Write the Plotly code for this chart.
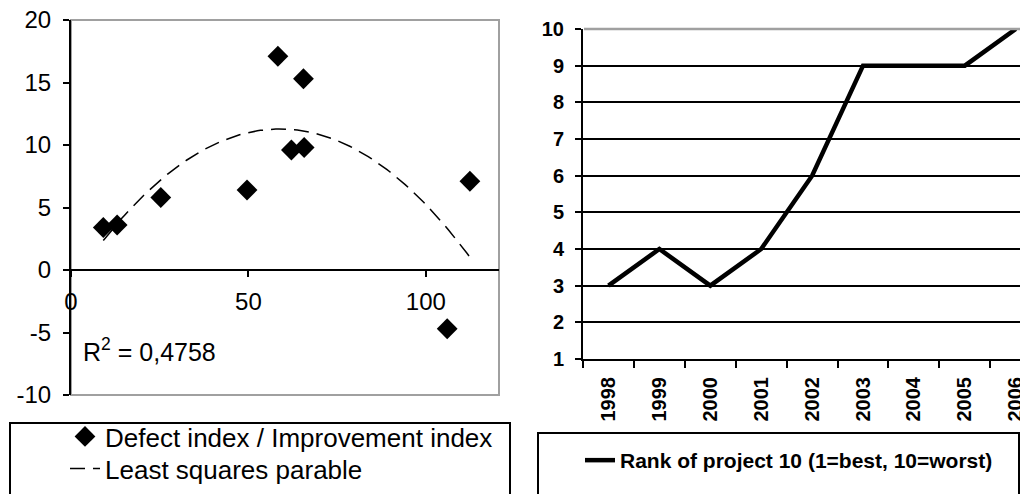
import numpy as np
import plotly.graph_objects as go

# ---- data (left chart) ----
defect_x = [9.1, 13.0, 25.3, 49.6, 58.3, 62.1, 65.5, 65.7, 106.0, 112.4]
defect_y = [3.4, 3.6, 5.8, 6.4, 17.1, 9.6, 15.3, 9.8, -4.7, 7.1]
r2_label = "R<sup>2</sup> = 0,4758"
left_y_ticks = [-10, -5, 0, 5, 10, 15, 20]
left_y_text = ["-10", "-5", "0", "5", "10", "15", "20"]
left_x_ticks = [0, 50, 100]

# ---- data (right chart) ----
years = ["1998", "1999", "2000", "2001", "2002", "2003", "2004", "2005", "2006"]
rank = [3, 4, 3, 4, 6, 9, 9, 9, 10]
rank_ticks = [1, 2, 3, 4, 5, 6, 7, 8, 9, 10]

# least squares parabola through the scatter data
coef = np.polyfit(defect_x, defect_y, 2)
fit_x = np.linspace(min(defect_x), max(defect_x), 120)
fit_y = np.polyval(coef, fit_x)

# the page body has an 8px margin, so the visible figure is 1020x486
OFF = 8
W, H = 1028 - OFF, 494 - OFF
def px(x):
    return (x - OFF) / W
def py(y):
    return 1 - (y - OFF) / H

FONT = "Arial, 'Liberation Sans', sans-serif"

fig = go.Figure()

fig.add_trace(go.Scatter(
    x=defect_x, y=defect_y, mode="markers", name="Defect index / Improvement index",
    marker=dict(symbol="diamond", size=16, color="black"),
    xaxis="x", yaxis="y", legend="legend"))
fig.add_trace(go.Scatter(
    x=fit_x, y=fit_y, mode="lines", name="Least squares parable",
    line=dict(color="black", width=1.5, dash="15px,8px"),
    xaxis="x", yaxis="y", legend="legend3"))
fig.add_trace(go.Scatter(
    x=years, y=rank, mode="lines", name="Rank of project 10 (1=best, 10=worst)",
    line=dict(color="black", width=4.5),
    xaxis="x2", yaxis="y2", legend="legend2"))

leg_common = dict(xanchor="left", yanchor="top", bgcolor="rgba(0,0,0,0)", borderwidth=0)

fig.update_layout(
    width=W, height=H,
    margin=dict(l=0, r=0, t=0, b=0, pad=0, autoexpand=False),
    paper_bgcolor="white", plot_bgcolor="white",
    font=dict(family=FONT, color="black"),
    showlegend=True,
    xaxis=dict(domain=[px(71), px(499)], range=[0, 120.6], anchor="free",
               position=py(270), showline=True, linecolor="black", linewidth=2,
               ticks="outside", ticklen=6, tickwidth=2, tickcolor="black",
               tickvals=left_x_ticks, showgrid=False, zeroline=False,
               tickfont=dict(size=24, family=FONT, color="black"),
               ticklabelstandoff=4, automargin=False, ticklabeloverflow="allow"),
    yaxis=dict(domain=[py(395), py(20)], range=[-10, 20], anchor="x",
               showline=True, linecolor="black", linewidth=2,
               ticks="outside", ticklen=6, tickwidth=2, tickcolor="black",
               tickvals=left_y_ticks, ticktext=left_y_text,
               showgrid=False, zeroline=False,
               tickfont=dict(size=24, family=FONT, color="black"),
               ticklabelstandoff=7, automargin=False, ticklabeloverflow="allow"),
    xaxis2=dict(domain=[px(583), 1.0], range=[-0.5, 8.24], type="category",
                anchor="y2", showline=True, linecolor="black", linewidth=2,
                ticks="outside", ticklen=7, tickwidth=2, tickcolor="black",
                tickson="boundaries", showgrid=False, zeroline=False,
                tickangle=-90,
                tickfont=dict(size=20, family=FONT, color="black", weight="bold"),
                ticklabelstandoff=8, automargin=False, ticklabeloverflow="allow"),
    yaxis2=dict(domain=[py(359), py(29)], range=[1, 10], anchor="x2",
                showline=True, linecolor="black", linewidth=2,
                ticks="outside", ticklen=6, tickwidth=2, tickcolor="black",
                tickvals=rank_ticks, showgrid=True, gridcolor="black",
                gridwidth=2, zeroline=False,
                tickfont=dict(size=20, family=FONT, color="black", weight="bold"),
                ticklabelstandoff=7, automargin=False, ticklabeloverflow="allow"),
    legend=dict(x=px(65), y=py(413), **leg_common,
                font=dict(size=26, family=FONT, color="black")),
    legend3=dict(x=px(65), y=py(445), **leg_common,
                 font=dict(size=26, family=FONT, color="black")),
    legend2=dict(x=px(580), y=py(440), **leg_common,
                 font=dict(size=21, family=FONT, color="black", weight="bold")),
    annotations=[dict(x=2.8, y=-6.4, xref="x", yref="y", text=r2_label,
                      showarrow=False, xanchor="left", yanchor="middle",
                      font=dict(size=25, family=FONT, color="black"))],
    shapes=[
        # plot-area frames
        dict(type="rect", xref="paper", yref="paper", x0=px(71), x1=px(499),
             y0=py(395), y1=py(20), line=dict(color="#a0a0a0", width=2), layer="below"),
        dict(type="line", xref="paper", yref="paper", x0=px(584), x1=1.0,
             y0=py(29), y1=py(29), line=dict(color="#a0a0a0", width=2.5), layer="above"),
        # legend frames
        dict(type="rect", xref="paper", yref="paper", x0=px(10), x1=px(510),
             y0=py(520), y1=py(423), line=dict(color="black", width=2), layer="above"),
        dict(type="rect", xref="paper", yref="paper", x0=px(538), x1=px(1019),
             y0=py(520), y1=py(433), line=dict(color="black", width=2), layer="above"),
    ],
)

fig.write_html("out.html")
